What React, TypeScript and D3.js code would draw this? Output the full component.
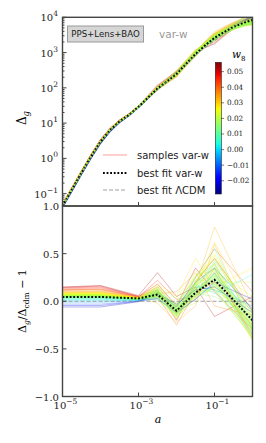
import React from "react";
import * as d3 from "d3";

// log10(a) nodes where the ratio to LCDM is tabulated
const NODES = [-5, -4, -3, -2.5, -2, -1.5, -1, 0];

// best fit LCDM Delta_g, log10 values on a finer log10(a) grid
const LCDM_LOGA = [-5, -4.75, -4.5, -4.25, -4, -3.75, -3.5, -3.25, -3, -2.75, -2.5, -2.25, -2, -1.75, -1.5, -1.25, -1, -0.75, -0.5, -0.25, 0];
const LCDM_LOGD = [-1.37, -0.9, -0.43, 0.03, 0.45, 0.78, 1.03, 1.22, 1.45, 1.7, 1.95, 2.19, 2.44, 2.68, 2.92, 3.14, 3.33, 3.53, 3.72, 3.88, 4.02];

// best fit var-w, Delta_g / Delta_cdm - 1 at NODES
const BEST_RATIO = [0.045, 0.045, 0.03, 0.07, -0.1, 0.09, 0.225, -0.2];

// samples: w_8 value and ratio at NODES
const SAMPLE_W8 = [
  0.052, 0.048, 0.05, 0.045, 0.042, 0.038, 0.04, 0.036, 0.032, 0.03,
  0.028, 0.033, 0.027, 0.025, 0.024, 0.023, 0.02, 0.019, 0.018, 0.017,
  0.016, 0.021, 0.015, 0.014, 0.019, 0.022, 0.013, 0.011, 0.009, 0.007,
  0.005, 0.003, 0.0, -0.005, -0.012, -0.018, -0.024, 0.018, 0.02, 0.016,
  0.021, 0.017, 0.019, 0.015, 0.023, 0.026, 0.012, 0.018, 0.029, 0.014,
  0.02, 0.016, 0.022, 0.01, 0.024, 0.019, 0.027, 0.017, 0.013, 0.021,
];
const SAMPLE_RATIO = [
  [0.15, 0.165, 0.06, 0.3, 0.05, 0.15, -0.16, 0.05],
  [0.14, 0.15, 0.05, 0.18, -0.05, 0.35, 0.1, -0.3],
  [0.145, 0.16, 0.05, 0.12, -0.2, 0.2, 0.45, -0.1],
  [0.13, 0.14, 0.045, 0.22, 0.02, 0.05, 0.3, -0.35],
  [0.12, 0.13, 0.04, 0.1, -0.12, 0.25, 0.55, 0.1],
  [0.115, 0.12, 0.04, 0.05, -0.25, 0.1, 0.2, -0.25],
  [0.12, 0.125, 0.05, 0.15, -0.08, 0.02, 0.35, -0.4],
  [0.105, 0.11, 0.035, 0.08, 0.1, 0.3, -0.05, -0.15],
  [0.1, 0.1, 0.04, 0.12, -0.15, 0.15, 0.78, -0.05],
  [0.09, 0.095, 0.03, 0.02, -0.18, 0.05, 0.4, -0.38],
  [0.085, 0.09, 0.035, 0.18, 0.05, 0.45, 0.15, 0.35],
  [0.095, 0.1, 0.04, -0.02, -0.22, -0.05, 0.6, -0.3],
  [0.08, 0.085, 0.03, 0.1, -0.1, 0.12, 0.25, -0.42],
  [0.075, 0.08, 0.03, 0.08, -0.06, 0.2, 0.5, -0.2],
  [0.07, 0.075, 0.03, 0.14, -0.14, 0.08, 0.15, -0.25],
  [0.068, 0.07, 0.025, 0.04, -0.02, 0.28, 0.32, 0.05],
  [0.062, 0.065, 0.03, 0.09, -0.12, 0.1, 0.22, -0.33],
  [0.06, 0.06, 0.025, 0.11, -0.08, 0.05, 0.35, -0.28],
  [0.058, 0.06, 0.03, 0.03, -0.15, 0.18, 0.28, -0.18],
  [0.055, 0.055, 0.025, 0.06, -0.04, 0.12, 0.1, -0.36],
  [0.05, 0.052, 0.02, 0.13, -0.18, 0.22, 0.4, -0.24],
  [0.064, 0.066, 0.03, 0.07, -0.09, -0.02, 0.18, -0.3],
  [0.048, 0.05, 0.02, 0.05, -0.11, 0.14, 0.26, -0.4],
  [0.045, 0.046, 0.02, 0.1, -0.06, 0.08, 0.05, -0.15],
  [0.058, 0.06, 0.025, 0.15, 0.03, 0.32, 0.2, 0.2],
  [0.066, 0.07, 0.03, 0.01, -0.16, 0.06, 0.3, -0.22],
  [0.042, 0.043, 0.02, 0.08, -0.13, 0.16, 0.12, -0.34],
  [0.038, 0.038, 0.02, 0.06, -0.1, 0.12, 0.42, -0.12],
  [0.032, 0.032, 0.015, 0.09, -0.07, 0.25, 0.55, -0.26],
  [0.026, 0.026, 0.015, 0.04, -0.14, 0.03, 0.18, -0.2],
  [0.02, 0.02, 0.01, 0.11, -0.05, 0.18, 0.08, 0.28],
  [0.014, 0.014, 0.01, 0.02, -0.12, 0.07, 0.3, -0.16],
  [0.005, 0.005, 0.01, 0.07, -0.08, 0.1, 0.24, -0.1],
  [-0.01, -0.01, 0.005, 0.05, -0.1, 0.15, 0.12, -0.05],
  [-0.03, -0.03, 0.0, 0.09, -0.06, 0.2, 0.35, -0.08],
  [-0.045, -0.045, 0.0, 0.03, -0.12, 0.02, 0.2, 0.02],
  [-0.06, -0.06, -0.005, 0.08, -0.03, 0.12, 0.15, -0.12],
  [0.058, 0.058, 0.03, 0.06, -0.09, 0.09, 0.21, -0.27],
  [0.06, 0.062, 0.03, 0.1, -0.11, 0.13, 0.27, -0.21],
  [0.052, 0.054, 0.025, 0.07, -0.1, 0.07, 0.16, -0.29],
  [0.064, 0.066, 0.03, 0.12, -0.07, 0.17, 0.33, -0.31],
  [0.055, 0.056, 0.025, 0.05, -0.13, 0.11, 0.24, -0.37],
  [0.06, 0.061, 0.028, 0.09, -0.09, 0.21, 0.45, -0.19],
  [0.048, 0.05, 0.022, 0.12, -0.04, 0.26, 0.38, -0.23],
  [0.068, 0.07, 0.03, 0.06, -0.17, 0.04, 0.14, -0.39],
  [0.078, 0.08, 0.032, 0.11, -0.11, 0.19, 0.48, -0.14],
  [0.04, 0.04, 0.02, 0.07, -0.09, 0.1, 0.29, -0.32],
  [0.058, 0.06, 0.027, 0.14, -0.02, 0.24, 0.17, -0.26],
  [0.088, 0.09, 0.035, 0.09, -0.13, 0.14, 0.62, -0.11],
  [0.045, 0.046, 0.02, 0.04, -0.15, 0.09, 0.23, -0.35],
  [0.062, 0.064, 0.03, 0.08, -0.1, 0.16, 0.31, -0.17],
  [0.05, 0.052, 0.024, 0.1, -0.08, 0.04, 0.19, -0.28],
  [0.066, 0.068, 0.03, 0.13, -0.12, 0.2, 0.36, -0.33],
  [0.035, 0.035, 0.018, 0.08, -0.11, 0.13, 0.27, -0.21],
  [0.072, 0.074, 0.03, 0.05, -0.07, 0.11, 0.2, -0.24],
  [0.06, 0.06, 0.026, 0.07, -0.14, 0.15, 0.39, -0.29],
  [0.082, 0.084, 0.032, 0.16, -0.05, 0.27, 0.44, -0.16],
  [0.054, 0.055, 0.024, 0.09, -0.06, 0.06, 0.13, -0.38],
  [0.043, 0.044, 0.02, 0.11, -0.1, 0.19, 0.34, -0.3],
  [0.064, 0.065, 0.03, 0.06, -0.16, 0.08, 0.26, -0.2],
];

const X_TICKS = [-5, -3, -1];
const Y_TICKS_TOP = [-1, 0, 1, 2, 3, 4];
const Y_TICKS_BOT = [-1, -0.5, 0, 0.5, 1];
const CBAR_TICKS = [-0.02, -0.01, 0, 0.01, 0.02, 0.03, 0.04, 0.05];

// matplotlib "jet"
const jetR = d3.scaleLinear().domain([0, 0.35, 0.66, 0.89, 1]).range([0, 0, 1, 1, 0.5]).clamp(true);
const jetG = d3.scaleLinear().domain([0, 0.125, 0.375, 0.64, 0.91, 1]).range([0, 0, 1, 1, 0, 0]).clamp(true);
const jetB = d3.scaleLinear().domain([0, 0.11, 0.34, 0.65, 1]).range([0.5, 1, 1, 0, 0]).clamp(true);
const jet = (t: number) => d3.rgb(jetR(t) * 255, jetG(t) * 255, jetB(t) * 255).formatHex();

const L = 62.5, R = 252.5, T = 17.3, M = 206, B = 396.5;
const serif = "'DejaVu Serif', serif";
const sans = "'DejaVu Sans', sans-serif";

export default function App() {
  const x = d3.scaleLog().domain([1e-5, 1]).range([L, R]);
  const yTop = d3.scaleLog().domain([Math.pow(10, -1.35), 1e4]).range([M, T]);
  const yBot = d3.scaleLinear().domain([-1, 1]).range([B, M]);
  const wNorm = d3.scaleLinear().domain([-0.0285, 0.056]).range([0, 1]);
  const cbY = d3.scaleLinear().domain([-0.0285, 0.056]).range([194, 62.3]);

  const topLine = d3.line<[number, number]>().x((d) => x(d[0])).y((d) => yTop(d[1]));
  const botLine = d3.line<[number, number]>().x((d) => x(d[0])).y((d) => yBot(d[1]));

  const topPts = (ratio: number[] | null): [number, number][] => {
    const r = ratio ? d3.scaleLinear().domain(NODES).range(ratio) : () => 0;
    return LCDM_LOGA.map((la, i) => [Math.pow(10, la), Math.pow(10, LCDM_LOGD[i]) * (1 + (r as any)(la))]);
  };
  const botPts = (ratio: number[]): [number, number][] => NODES.map((la, i) => [Math.pow(10, la), ratio[i]]);

  const minorTop: number[] = [];
  for (let e = -2; e < 4; e++) for (let k = 2; k < 10; k++) {
    const v = k * Math.pow(10, e);
    if (v > Math.pow(10, -1.35) && v < 1e4) minorTop.push(v);
  }

  const gradStops = d3.range(0, 1.0001, 0.02);
  const spine = "#444";

  return (
    <div style={{ position: "absolute", left: 0, top: 0 }}>
      <svg width={266} height={443} style={{ display: "block" }}>
        <defs>
          <clipPath id="cTop"><rect x={L} y={T} width={R - L} height={M - T} /></clipPath>
          <clipPath id="cBot"><rect x={L} y={M} width={R - L} height={B - M} /></clipPath>
          <linearGradient id="jet" x1="0" y1="1" x2="0" y2="0">
            {gradStops.map((t) => <stop key={t} offset={t} stopColor={jet(t)} />)}
          </linearGradient>
        </defs>

        {/* top panel */}
        <g clipPath="url(#cTop)">
          {SAMPLE_RATIO.map((r, i) => (
            <path key={i} d={topLine(topPts(r)) || ""} fill="none" stroke={jet(wNorm(SAMPLE_W8[i]))} strokeOpacity={0.3} strokeWidth={1.4} />
          ))}
          <path d={topLine(topPts(BEST_RATIO)) || ""} fill="none" stroke="#000" strokeWidth={2} strokeDasharray="1.8,1.8" />
          <path d={topLine(topPts(null)) || ""} fill="none" stroke="#888" strokeWidth={0.8} strokeDasharray="4,2" />
        </g>

        {/* bottom panel */}
        <g clipPath="url(#cBot)">
          {SAMPLE_RATIO.map((r, i) => (
            <path key={i} d={botLine(botPts(r)) || ""} fill="none" stroke={jet(wNorm(SAMPLE_W8[i]))} strokeOpacity={0.3} strokeWidth={1} />
          ))}
          <path d={botLine(botPts(BEST_RATIO)) || ""} fill="none" stroke="#000" strokeWidth={2} strokeDasharray="1.8,1.8" />
          <line x1={L} x2={R} y1={yBot(0)} y2={yBot(0)} stroke="#888" strokeWidth={0.8} strokeDasharray="4,2" />
        </g>

        {/* ticks */}
        <g stroke={spine} strokeWidth={1}>
          {Y_TICKS_TOP.map((e) => <line key={e} x1={L} x2={L + 4} y1={yTop(Math.pow(10, e))} y2={yTop(Math.pow(10, e))} />)}
          {minorTop.map((v) => <line key={v} x1={L} x2={L + 2} y1={yTop(v)} y2={yTop(v)} />)}
          {Y_TICKS_BOT.map((v) => <line key={v} x1={L} x2={L + 4} y1={yBot(v)} y2={yBot(v)} />)}
          {X_TICKS.map((e) => (
            <g key={e}>
              <line x1={x(Math.pow(10, e))} x2={x(Math.pow(10, e))} y1={M} y2={M - 4} />
              <line x1={x(Math.pow(10, e))} x2={x(Math.pow(10, e))} y1={B} y2={B - 4} />
            </g>
          ))}
        </g>

        {/* frames */}
        <rect x={L} y={T} width={R - L} height={M - T} fill="none" stroke={spine} strokeWidth={1.4} />
        <rect x={L} y={M} width={R - L} height={B - M} fill="none" stroke={spine} strokeWidth={1.4} />

        {/* tick labels */}
        <g fontFamily={serif} fontSize={10} fill="#222">
          {Y_TICKS_TOP.map((e) => (
            <text key={e} x={58} y={yTop(Math.pow(10, e)) + 4} textAnchor="end">
              10<tspan dy={-5} fontSize={7.5}>{e < 0 ? "−" + -e : e}</tspan>
            </text>
          ))}
          {Y_TICKS_BOT.map((v) => (
            <text key={v} x={59} y={yBot(v) + 4} textAnchor="end">{d3.format(".1f")(v).replace("-", "−")}</text>
          ))}
          {X_TICKS.map((e) => (
            <text key={e} x={x(Math.pow(10, e)) + 3} y={409} textAnchor="middle">
              10<tspan dy={-5} fontSize={7.5}>{"−" + -e}</tspan>
            </text>
          ))}
        </g>

        {/* axis labels */}
        <text x={158} y={423} fontFamily={serif} fontStyle="italic" fontSize={11} textAnchor="middle">a</text>
        <text transform="translate(26,118) rotate(-90)" fontFamily={serif} fontSize={12} textAnchor="middle">
          Δ<tspan dy={3} fontSize={8.5} fontStyle="italic">g</tspan>
        </text>
        <text transform="translate(26,301) rotate(-90)" fontFamily={serif} fontSize={11} textAnchor="middle">
          Δ<tspan dy={3} fontSize={7.5} fontStyle="italic">g</tspan>
          <tspan dy={-3}>/Δ</tspan>
          <tspan dy={3} fontSize={7.5}>cdm</tspan>
          <tspan dy={-3}> − 1</tspan>
        </text>

        {/* label box */}
        <rect x={67.5} y={26} width={76} height={16} fill="#d6d6d6" stroke="#9a9a9a" strokeWidth={1} />
        <text x={105.5} y={37.3} fontFamily={sans} fontSize={8.6} textAnchor="middle" fill="#222">PPS+Lens+BAO</text>
        <text x={159} y={37.5} fontFamily={sans} fontSize={10.5} fill="#999">var-w</text>

        {/* legend */}
        <g fontFamily={sans} fontSize={10} fill="#222">
          <line x1={103} x2={127} y1={155} y2={155} stroke="red" strokeOpacity={0.25} strokeWidth={1.5} />
          <text x={137} y={158.5}>samples var-w</text>
          <line x1={103} x2={127} y1={173} y2={173} stroke="#000" strokeWidth={2} strokeDasharray="1.8,1.8" />
          <text x={137} y={176.5}>best fit var-w</text>
          <line x1={103} x2={127} y1={190} y2={190} stroke="#888" strokeWidth={0.8} strokeDasharray="4,2" />
          <text x={137} y={193.5}>best fit ΛCDM</text>
        </g>

        {/* colorbar */}
        <rect x={215.3} y={62.3} width={6} height={131.7} fill="url(#jet)" stroke="#222" strokeWidth={0.6} />
        <g fontFamily={serif} fontSize={7.3} fill="#222">
          {CBAR_TICKS.map((v) => (
            <g key={v}>
              <line x1={221.3} x2={224} y1={cbY(v)} y2={cbY(v)} stroke="#222" strokeWidth={0.6} />
              <text x={227} y={cbY(v) + 2.5}>{d3.format(".2f")(v).replace("-", "−")}</text>
            </g>
          ))}
        </g>
        <text x={232} y={58} fontFamily={serif} fontStyle="italic" fontSize={10.5}>
          w<tspan dy={3} fontSize={7} fontStyle="normal">8</tspan>
        </text>
      </svg>
    </div>
  );
}
